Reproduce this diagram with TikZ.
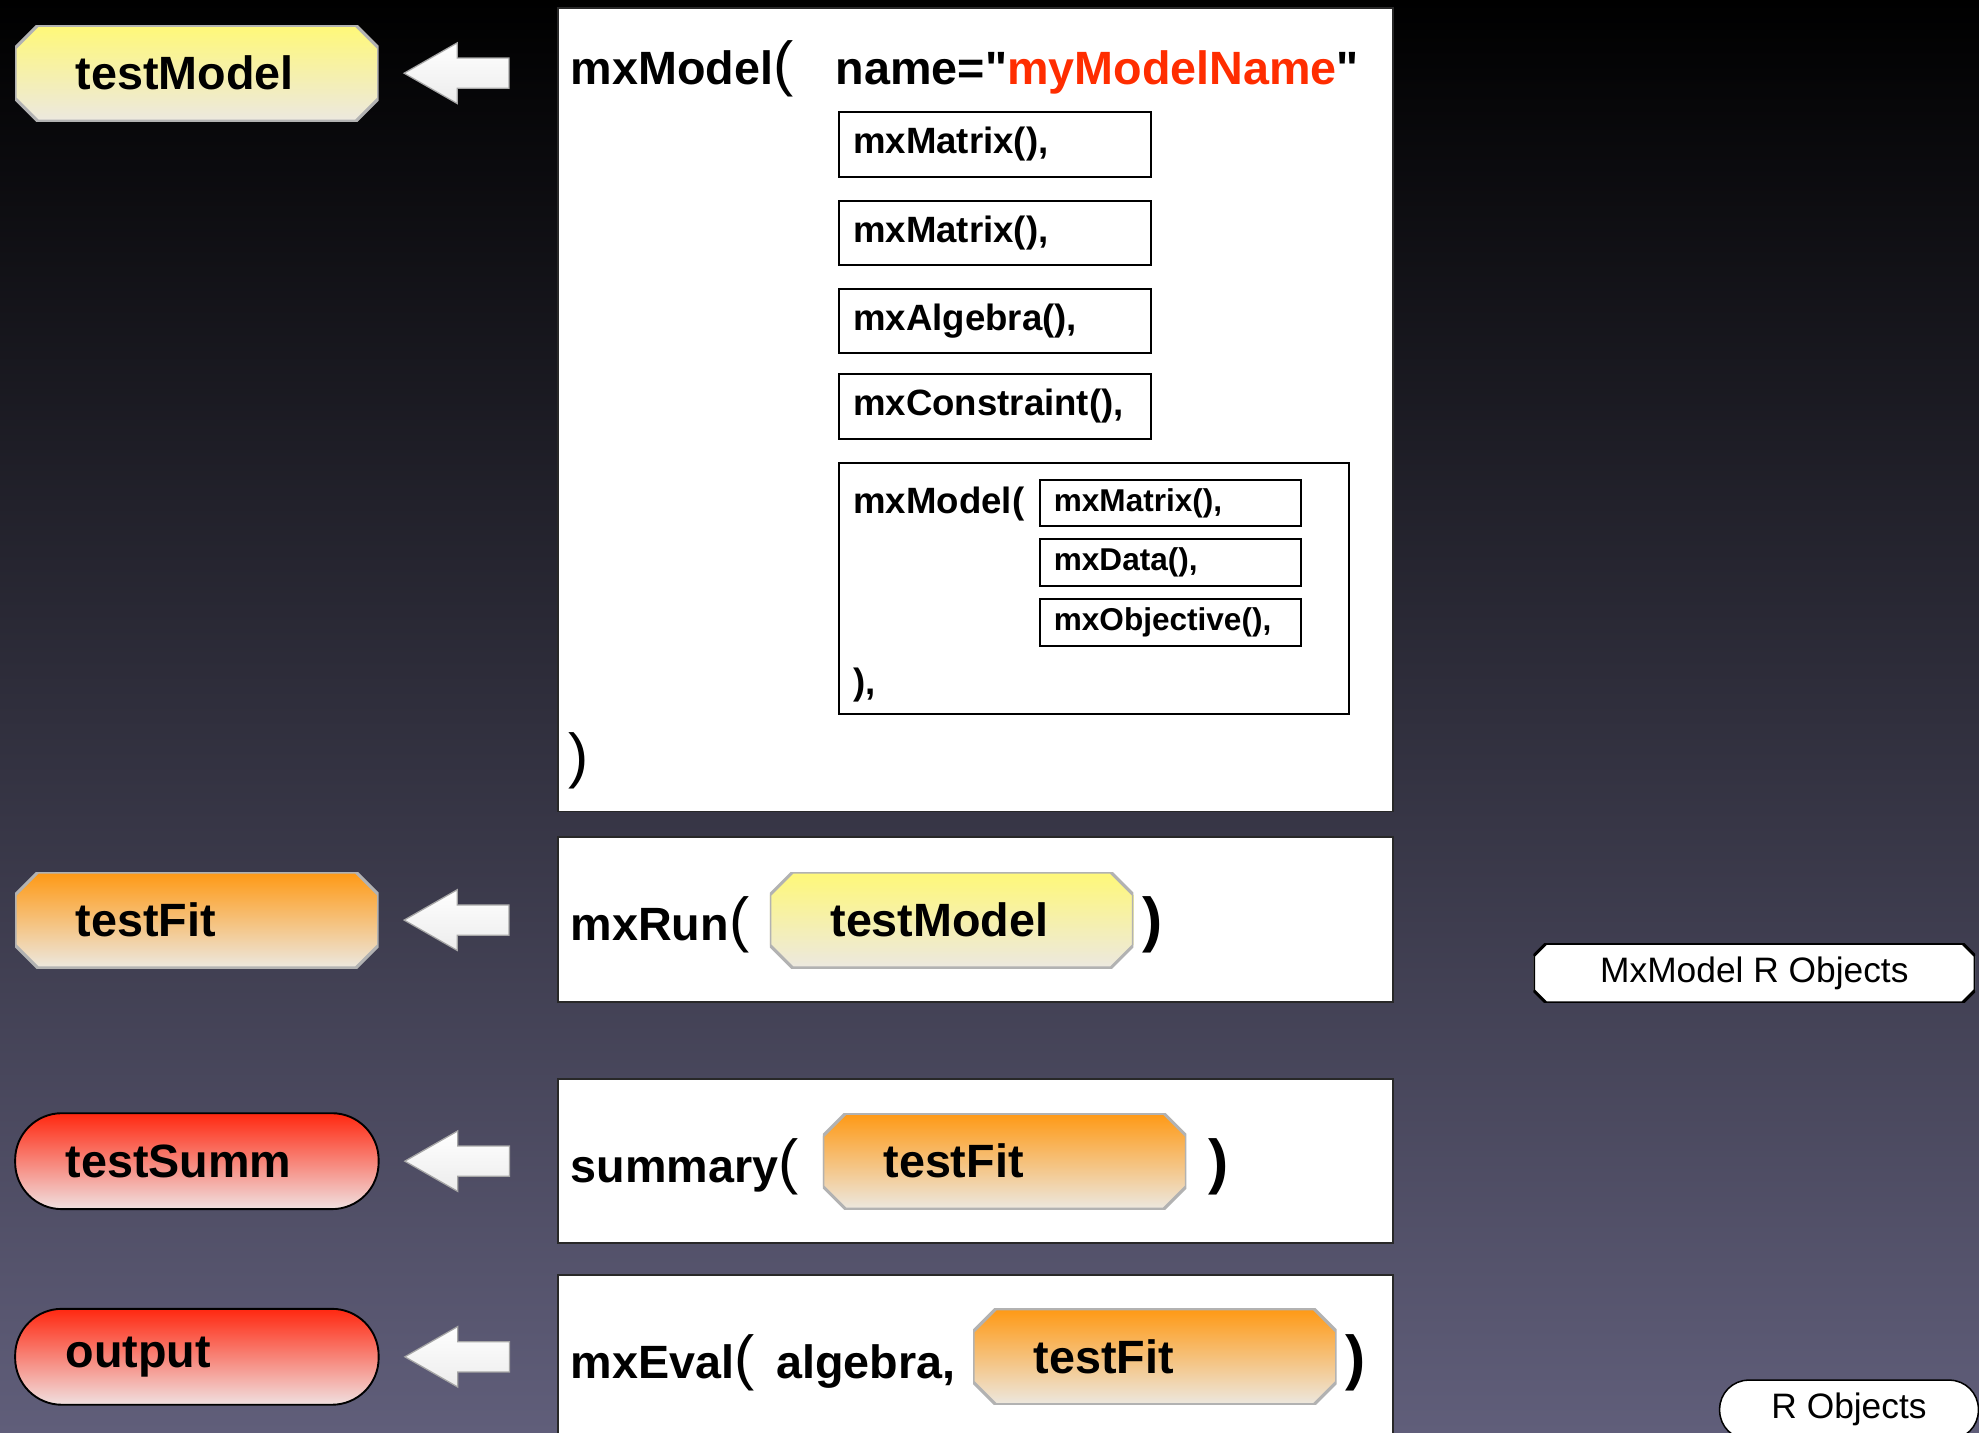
\documentclass[tikz,border=0pt]{standalone}
\usepackage{fontspec}
\setmainfont{Liberation Sans}[Ligatures=TeXOff]

\definecolor{bgmid}{RGB}{42,38,80}
\definecolor{bgbot}{RGB}{96,94,122}
\definecolor{modelyel}{RGB}{255,248,120}
\definecolor{fitorg}{RGB}{255,153,20}
\definecolor{summred}{RGB}{255,40,16}
\definecolor{paleend}{RGB}{236,232,224}
\definecolor{palered}{RGB}{240,224,224}
\definecolor{namered}{RGB}{255,45,0}
\definecolor{boxline}{RGB}{40,40,40}

\newcommand{\codefont}{\fontsize{37}{44}\selectfont\bfseries}
\newcommand{\fnfont}{\fontsize{29}{34}\selectfont\bfseries}
\newcommand{\subfont}{\fontsize{25}{30}\selectfont\bfseries}
\newcommand{\thinparen}[1]{{\fontsize{48}{50}\selectfont\mdseries #1}}
\newcommand{\thickparen}[1]{{\fontsize{48}{50}\selectfont\bfseries #1}}
% octagon inside the path picture box, #1 = chamfer
\newcommand{\octagonpath}[1]{([xshift=#1]path picture bounding box.north west)
  -- ([xshift=-#1]path picture bounding box.north east) -- ([yshift=-#1]path picture bounding box.north east)
  -- ([yshift=#1]path picture bounding box.south east) -- ([xshift=-#1]path picture bounding box.south east)
  -- ([xshift=#1]path picture bounding box.south west) -- ([yshift=#1]path picture bounding box.south west)
  -- ([yshift=-#1]path picture bounding box.north west) -- cycle}

\tikzset{
  codebox/.style={rectangle, draw=boxline, line width=1.5pt, fill=white, inner sep=0pt},
  fnbox/.style={rectangle, draw=black, line width=1.5pt, fill=white, minimum width=247pt,
    minimum height=51pt, text width=225pt, inner xsep=11pt, inner ysep=0pt, align=left, font=\fnfont},
  subbox/.style={fnbox, minimum width=207pt, minimum height=37pt, text width=185pt, font=\subfont},
  objbox/.style={rectangle, minimum width=288pt, minimum height=76pt, text width=192pt,
    inner xsep=48pt, inner ysep=0pt, align=left, font=\codefont,
    path picture={\shadedraw[top color=#1, bottom color=paleend, draw=gray!60, line width=2.5pt]
      \octagonpath{18pt};}},
  pillbox/.style={rectangle, rounded corners=37pt, draw=black, line width=1.5pt,
    top color=summred, bottom color=palered,
    minimum width=288pt, minimum height=76pt, text width=208pt, inner xsep=40pt, inner ysep=0pt,
    align=left, font=\codefont},
  legendbox/.style={rectangle, minimum width=350pt, minimum height=47pt, inner sep=0pt,
    font=\fontsize{28}{32}\selectfont,
    path picture={\filldraw[fill=white, draw=black, line width=2.4pt] \octagonpath{10pt};}},
  legendpill/.style={rectangle, rounded corners=23pt, draw=black, line width=1.2pt,
    fill=white, minimum width=205pt, minimum height=47pt, inner sep=0pt, font=\fontsize{28}{32}\selectfont},
  fatarrow/.style={draw=gray!70, line width=1pt, top color=white, bottom color=gray!15}
}

\begin{document}
\begin{tikzpicture}
    % Background
    \useasboundingbox (0pt,0pt) rectangle (1568pt,-1135pt);
    \clip (0pt,0pt) rectangle (1568pt,-1135pt);
    \shade[top color=black, middle color=bgmid, bottom color=bgbot] (0pt,0pt) rectangle (1568pt,-1135pt);

    % Code boxes
    \node[codebox, minimum width=662pt, minimum height=637pt] (model) at (773pt,-324.5pt) {};
    \node[codebox, minimum width=662pt, minimum height=131pt] (run) at (773pt,-728.5pt) {};
    \node[codebox, minimum width=662pt, minimum height=130pt] (summ) at (773pt,-920pt) {};
    \node[codebox, minimum width=662pt, minimum height=150pt] (eval) at (773pt,-1085pt) {};

    % mxModel
    \node[anchor=base west, inner sep=0pt] (mm) at (452pt,-67pt) {\codefont mxModel\thinparen{(}};
    \node[anchor=base west, inner sep=0pt] (nm) at (662pt,-67pt) {\codefont name="\textcolor{namered}{myModelName}"};
    \node[fnbox] (mat1) at (788.5pt,-114.5pt) {mxMatrix(),};
    \node[fnbox] (mat2) at (788.5pt,-184.5pt) {mxMatrix(),};
    \node[fnbox] (alg) at (788.5pt,-254.5pt) {mxAlgebra(),};
    \node[fnbox] (con) at (788.5pt,-322pt) {mxConstraint(),};

    \node[codebox, draw=black, minimum width=404pt, minimum height=199pt] (sub) at (867pt,-466.5pt) {};
    \node[anchor=base west, inner sep=0pt] (smm) at (676pt,-407pt) {\fnfont mxModel(};
    \node[subbox] (smat) at (927.5pt,-398.5pt) {mxMatrix(),};
    \node[subbox] (sdat) at (927.5pt,-445.5pt) {mxData(),};
    \node[subbox] (sobj) at (927.5pt,-493pt) {mxObjective(),};
    \node[anchor=base west, inner sep=0pt] (send) at (676pt,-550pt) {\fnfont ),};
    \node[anchor=base west, inner sep=0pt] (mend) at (450pt,-615pt) {\thinparen{)}};

    % mxRun
    \node[anchor=base west, inner sep=0pt] (rtx) at (452pt,-745pt) {\codefont mxRun\thinparen{(}};
    \node[objbox=modelyel] (rm) at (754pt,-729pt) {testModel};
    \node[anchor=base west, inner sep=0pt] (rcl) at (905pt,-745pt) {\thickparen{)}};

    % summary
    \node[anchor=base west, inner sep=0pt] (stx) at (452pt,-937pt) {\codefont summary\thinparen{(}};
    \node[objbox=fitorg] (sf) at (796pt,-920pt) {testFit};
    \node[anchor=base west, inner sep=0pt] (scl) at (957pt,-937pt) {\thickparen{)}};

    % mxEval
    \node[anchor=base west, inner sep=0pt] (etx) at (452pt,-1092pt) {\codefont mxEval\thinparen{(}};
    \node[anchor=base west, inner sep=0pt] (ealg) at (615pt,-1092pt) {\codefont algebra,};
    \node[objbox=fitorg] (ef) at (915pt,-1075pt) {testFit};
    \node[anchor=base west, inner sep=0pt] (ecl) at (1066pt,-1092pt) {\thickparen{)}};

    % Results
    \node[objbox=modelyel] (lm) at (156pt,-58pt) {testModel};
    \node[objbox=fitorg] (lf) at (156pt,-729pt) {testFit};
    \node[pillbox] (ls) at (156pt,-920pt) {testSumm};
    \node[pillbox] (lo) at (156pt,-1075pt) {output};

    % Arrows
    \foreach \l in {lm,lf,ls,lo}
        \draw[fatarrow] ([xshift=20pt]\l.east) -- ++(42pt,24pt) -- ++(0pt,-12pt) -- ++(41pt,0pt)
            -- ++(0pt,-24pt) -- ++(-41pt,0pt) -- ++(0pt,-12pt) -- cycle;

    % Legend
    \node[legendbox] (leg1) at (1390pt,-771pt) {MxModel R Objects};
    \node[legendpill] (leg2) at (1465pt,-1117pt) {R Objects};

\end{tikzpicture}
\end{document}
